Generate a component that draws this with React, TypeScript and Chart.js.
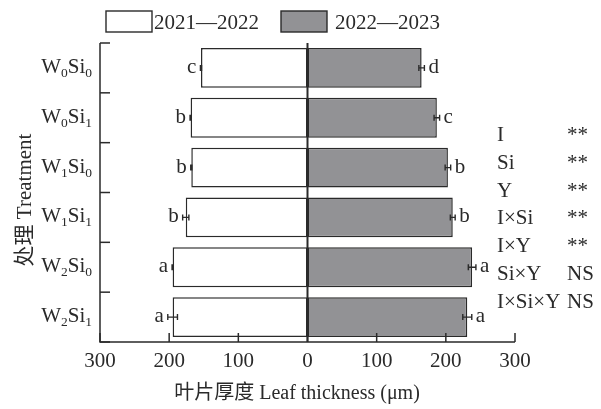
import { useEffect, useRef } from 'react';
import { Chart, registerables } from 'chart.js';

Chart.register(...registerables);

// ---- data ----
const categories = ['W0Si0', 'W0Si1', 'W1Si0', 'W1Si1', 'W2Si0', 'W2Si1'];
const seasons = ['2021—2022', '2022—2023'];
const thickness2021 = [154, 169, 168, 176, 195, 195];
const error2021 = [0.8, 0.8, 0.8, 4.5, 0.8, 7];
const letters2021 = ['c', 'b', 'b', 'b', 'a', 'a'];
const thickness2022 = [165, 187, 203, 210, 238, 231];
const error2022 = [4, 4, 4, 3.5, 5.5, 6.5];
const letters2022 = ['d', 'c', 'b', 'b', 'a', 'a'];
const xTickValues = [-300, -200, -100, 0, 100, 200, 300];
const effectTerms = ['I', 'Si', 'Y', 'I×Si', 'I×Y', 'Si×Y', 'I×Si×Y'];
const effectSig = ['**', '**', '**', '**', '**', 'NS', 'NS'];
const yTitle = '处理 Treatment';
const xTitle = '叶片厚度 Leaf thickness (μm)';

const FONT = '"Liberation Serif", "Noto Sans CJK SC", serif';
const MAIN = `21px ${FONT}`;
const SUB = `13.5px ${FONT}`;
const INK = '#2a2a2a';
const GRAY = '#929295';

function splitLabel(label: string) {
  // digits become subscripts
  const parts: { t: string; sub: boolean }[] = [];
  for (const ch of label) {
    const sub = /[0-9]/.test(ch);
    const last = parts[parts.length - 1];
    if (last && last.sub === sub) last.t += ch;
    else parts.push({ t: ch, sub });
  }
  return parts;
}

const decoPlugin = {
  id: 'deco',
  afterDraw(chart: any) {
    const { ctx, chartArea: a, scales } = chart;
    const x = scales.x;
    const y = scales.y;
    ctx.save();
    ctx.strokeStyle = INK;
    ctx.fillStyle = INK;

    // error bars + letters
    const sets = [
      { vals: thickness2021, errs: error2021, letters: letters2021, sign: -1 },
      { vals: thickness2022, errs: error2022, letters: letters2022, sign: 1 },
    ];
    sets.forEach((s, d) => {
      const meta = chart.getDatasetMeta(d);
      s.vals.forEach((v, i) => {
        const el = meta.data[i];
        const cy = el.y;
        const p1 = x.getPixelForValue(s.sign * (v - s.errs[i]));
        const p2 = x.getPixelForValue(s.sign * (v + s.errs[i]));
        ctx.lineWidth = 1.4;
        ctx.beginPath();
        ctx.moveTo(p1, cy);
        ctx.lineTo(p2, cy);
        ctx.moveTo(p1, cy - 3);
        ctx.lineTo(p1, cy + 3);
        ctx.moveTo(p2, cy - 3);
        ctx.lineTo(p2, cy + 3);
        ctx.stroke();
        ctx.font = MAIN;
        ctx.textBaseline = 'alphabetic';
        if (s.sign < 0) {
          ctx.textAlign = 'right';
          ctx.fillText(s.letters[i], Math.min(p1, p2) - 4, cy + 5);
        } else {
          ctx.textAlign = 'left';
          ctx.fillText(s.letters[i], Math.max(p1, p2) + 4, cy + 5);
        }
      });
    });

    // zero line
    const x0 = x.getPixelForValue(0);
    ctx.lineWidth = 2;
    ctx.beginPath();
    ctx.moveTo(x0, a.top);
    ctx.lineTo(x0, a.bottom);
    ctx.stroke();

    // axes lines
    ctx.lineWidth = 1.5;
    ctx.beginPath();
    ctx.moveTo(a.left, a.top);
    ctx.lineTo(a.left, a.bottom);
    ctx.lineTo(a.right, a.bottom);
    ctx.stroke();

    // y inner ticks at category boundaries
    for (let i = 0; i <= categories.length; i++) {
      const yb = y.getPixelForValue(i - 0.5);
      ctx.beginPath();
      ctx.moveTo(a.left, yb);
      ctx.lineTo(a.left + 10, yb);
      ctx.stroke();
    }

    // x inner ticks + labels
    ctx.font = MAIN;
    ctx.textAlign = 'center';
    ctx.textBaseline = 'alphabetic';
    x.ticks.forEach((t: any) => {
      const px = x.getPixelForValue(t.value);
      ctx.beginPath();
      ctx.moveTo(px, a.bottom);
      ctx.lineTo(px, a.bottom - 9);
      ctx.stroke();
      ctx.fillText(String(Math.abs(t.value)), px, a.bottom + 25);
    });

    // y category labels with subscripts
    categories.forEach((lab, i) => {
      const cy = y.getPixelForValue(i);
      const parts = splitLabel(lab);
      let total = 0;
      const widths = parts.map((p) => {
        ctx.font = p.sub ? SUB : MAIN;
        const w = ctx.measureText(p.t).width;
        total += w;
        return w;
      });
      let cx = a.left - 8 - total;
      ctx.textAlign = 'left';
      parts.forEach((p, k) => {
        ctx.font = p.sub ? SUB : MAIN;
        ctx.fillText(p.t, cx, cy + (p.sub ? 9 : 5));
        cx += widths[k];
      });
    });

    // y title
    ctx.save();
    ctx.translate(25, 200);
    ctx.rotate(-Math.PI / 2);
    ctx.font = MAIN;
    ctx.textAlign = 'center';
    ctx.textBaseline = 'middle';
    ctx.fillText(yTitle, 0, 0);
    ctx.restore();

    // x title
    ctx.font = `20px ${FONT}`;
    ctx.textAlign = 'center';
    ctx.textBaseline = 'middle';
    ctx.fillText(xTitle, 297, 394);

    // legend
    const legendItems = [
      { box: 106, text: 154, fill: '#ffffff' },
      { box: 281, text: 335, fill: GRAY },
    ];
    legendItems.forEach((it, k) => {
      ctx.fillStyle = it.fill;
      ctx.fillRect(it.box, 11, 46, 21);
      ctx.lineWidth = 1.4;
      ctx.strokeRect(it.box, 11, 46, 21);
      ctx.fillStyle = INK;
      ctx.font = MAIN;
      ctx.textAlign = 'left';
      ctx.textBaseline = 'alphabetic';
      ctx.fillText(seasons[k], it.text, 29);
    });

    // significance table
    ctx.font = MAIN;
    ctx.textAlign = 'left';
    ctx.textBaseline = 'alphabetic';
    effectTerms.forEach((term, i) => {
      const by = 141 + 27.8 * i;
      ctx.fillText(term, 497, by);
      ctx.fillText(effectSig[i], 567, by);
    });

    ctx.restore();
  },
};

export default function App() {
  const ref = useRef<HTMLCanvasElement | null>(null);
  useEffect(() => {
    document.body.style.margin = '0';
    const canvas = ref.current!;
    const chart = new Chart(canvas, {
      type: 'bar',
      data: {
        labels: categories,
        datasets: [
          {
            label: seasons[0],
            data: thickness2021.map((v) => -v),
            backgroundColor: '#ffffff',
            borderColor: INK,
            borderWidth: 1.5,
            borderSkipped: false,
          },
          {
            label: seasons[1],
            data: thickness2022,
            backgroundColor: GRAY,
            borderColor: INK,
            borderWidth: 1.5,
            borderSkipped: false,
          },
        ],
      },
      options: {
        indexAxis: 'y',
        animation: false,
        responsive: false,
        devicePixelRatio: 1,
        datasets: { bar: { barPercentage: 0.8, categoryPercentage: 1.0 } },
        layout: { padding: { top: 43, left: 100, right: 86, bottom: 59 } },
        plugins: { legend: { display: false }, tooltip: { enabled: false } },
        scales: {
          x: {
            type: 'linear',
            stacked: true,
            min: xTickValues[0],
            max: xTickValues[xTickValues.length - 1],
            afterBuildTicks: (scale: any) => {
              scale.ticks = xTickValues.map((v) => ({ value: v }));
            },
            ticks: { display: false },
            grid: { display: false },
            border: { display: false },
          },
          y: {
            type: 'category',
            stacked: true,
            offset: true,
            afterFit: (scale: any) => {
              scale.width = 0;
            },
            ticks: { display: false },
            grid: { display: false },
            border: { display: false },
          },
        },
      },
      plugins: [decoPlugin],
    } as any);
    return () => chart.destroy();
  }, []);
  return (
    <div style={{ width: 601, height: 409 }}>
      <canvas ref={ref} width={601} height={409} />
    </div>
  );
}
